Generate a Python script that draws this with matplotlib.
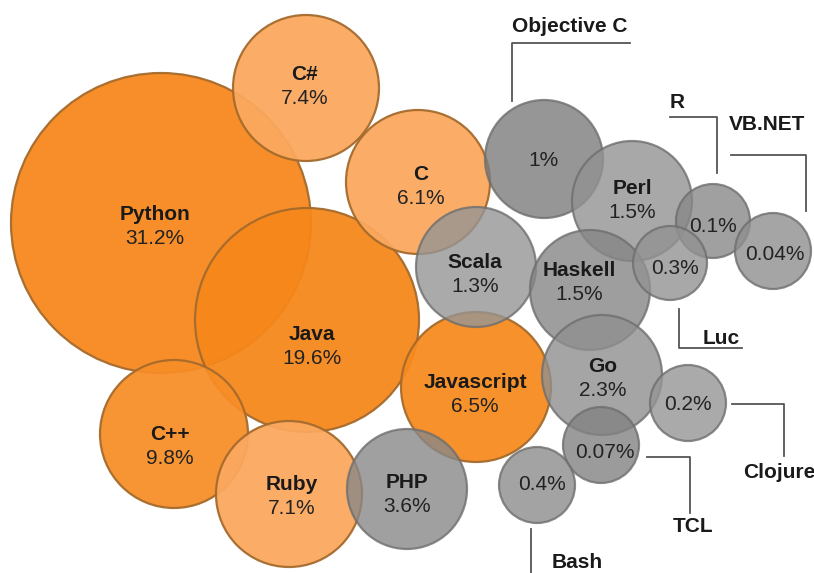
import matplotlib.pyplot as plt
from matplotlib.patches import Circle

# data
languages = ['Python', 'Java', 'C++', 'C#', 'Ruby', 'C', 'Javascript', 'PHP',
             'Scala', 'Objective C', 'Perl', 'Haskell', 'Go', 'R', 'VB.NET',
             'Luc', 'Clojure', 'TCL', 'Bash']
shares = [31.2, 19.6, 9.8, 7.4, 7.1, 6.1, 6.5, 3.6,
          1.3, 1, 1.5, 1.5, 2.3, 0.1, 0.04,
          0.3, 0.2, 0.07, 0.4]

# layout (pixel positions)
center_x = [161, 307, 174, 306, 289, 418, 476, 407,
            476, 544, 632, 590, 602, 713, 773,
            670, 688, 601, 537]
center_y = [223, 320, 434, 88, 494, 182, 387, 489,
            267, 159, 201, 290, 375, 221, 251,
            263, 403, 445, 485]
radius = [150, 112, 74, 73, 73, 72, 75, 60,
          60, 59, 60, 60, 60, 37, 38,
          37, 38, 38, 38]
# where the share text sits (the name goes ~24px above it)
label_x = [155, 312, 170, 305, 292, 421, 475, 407,
           475, 543, 632, 579, 603, 713, 775,
           675, 688, 605, 542]
label_y = [238, 358, 458, 99, 508, 198, 406, 507,
           287, 160, 212, 295, 391, 227, 255,
           268, 405, 453, 484]
fills = ['#F7871B', '#F6871A', '#F78D26', '#FBA85F', '#FBA85F', '#FBA85F', '#F78A1E', '#888888',
         '#959595', '#7C7C7C', '#929292', '#868686', '#8F8F8F', '#888888', '#8F8F8F',
         '#929292', '#959595', '#828282', '#8C8C8C']
# labels drawn inside the bubble (name + share) vs. callout labels
inside = [True] * 13 + [False] * 6
inside[9] = False

# callouts: label position and polyline
callouts = {
    'Objective C': ((570, 27), [(512, 101), (512, 43), (630, 43)]),
    'R': ((677, 103), [(670, 117), (717, 117), (717, 173)]),
    'VB.NET': ((767, 125), [(731, 155), (806, 155), (806, 211)]),
    'Luc': ((721, 338), [(679, 309), (679, 348), (742, 348)]),
    'Clojure': ((779, 472), [(732, 404), (784, 404), (784, 456)]),
    'TCL': ((693, 527), [(647, 457), (690, 457), (690, 513)]),
    'Bash': ((577, 563), [(531, 529), (531, 573)]),
}

plt.rcParams['font.family'] = ['Liberation Sans', 'DejaVu Sans']

fig = plt.figure(figsize=(8.14, 5.73), dpi=100)
ax = fig.add_axes([0, 0, 1, 1])
ax.set_xlim(0, 814)
ax.set_ylim(573, 0)
ax.axis('off')

for name, share, x, y, r, fc, show, lx, ly in zip(languages, shares, center_x, center_y,
                                                  radius, fills, inside, label_x, label_y):
    gray = fc[1:3] == fc[3:5]
    ec = '#6E6E6E' if gray else '#A46A2C'
    ax.add_patch(Circle((x, y), r, facecolor=fc, edgecolor=ec, linewidth=1.6,
                        alpha=0.8 if gray else 0.94, zorder=2))
    pct = f'{share:g}%'
    if show:
        ax.text(lx, ly - 24, name, ha='center', va='center', fontsize=15,
                fontweight='bold', color='#1a1a1a', zorder=5)
    ax.text(lx, ly, pct, ha='center', va='center', fontsize=15,
            color='#222222', zorder=5)

for name, (pos, pts) in callouts.items():
    xs, ys = zip(*pts)
    ax.plot(xs, ys, color='#555555', linewidth=1.3, zorder=1)
    ax.text(pos[0], pos[1], name, ha='center', va='center', fontsize=15,
            fontweight='bold', color='#1a1a1a')

fig.savefig('out.png', dpi=100)
